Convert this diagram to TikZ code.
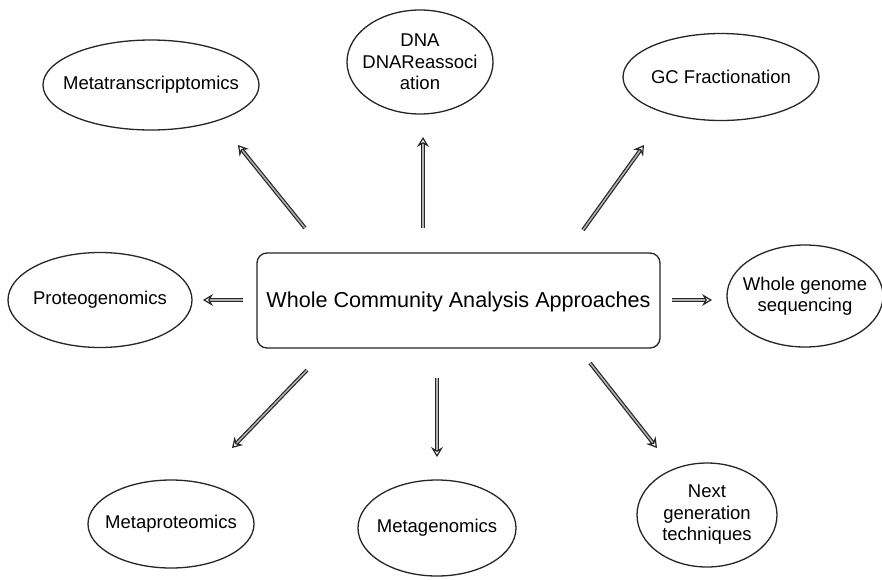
\documentclass[tikz,border=0pt]{standalone}
\usepackage{fontspec}
\setmainfont{Liberation Sans}
\usetikzlibrary{shapes.geometric,arrows.meta}
\tikzset{
  oval/.style={ellipse, draw=black!85, line width=1.3pt, inner sep=0pt},
  lbl/.style={inner sep=0pt, align=center, font=\fontsize{18.5}{21.5}\selectfont},
  mainbox/.style={rectangle, rounded corners=10pt, draw=black!85, line width=1.3pt, inner sep=0pt},
  arr/.style={draw=black!85, line width=1.2pt, double=black!30, double distance=1.5pt, -{Stealth[open, length=10pt, width=12pt, inset=3.5pt]}}
}
\begin{document}
\begin{tikzpicture}[x=1pt, y=-1pt]
\useasboundingbox[fill=white] (0,0) rectangle (882,579);
% central box
\node[mainbox, minimum width=403pt, minimum height=95pt, label={[lbl, font=\fontsize{21.6}{26}\selectfont, yshift=-1.5pt]center:Whole Community Analysis Approaches}] (box) at (458.5,300.5) {};
% outer ovals
\node[oval, minimum width=216pt, minimum height=90pt, label={[lbl]center:Metatranscripptomics}] (mt) at (151,85) {};
\node[oval, minimum width=146pt, minimum height=104pt, label={[lbl]center:DNA\\DNAReassoci\\ation}] (dna) at (420,62) {};
\node[oval, minimum width=196pt, minimum height=87pt, label={[lbl]center:GC Fractionation}] (gc) at (721,77) {};
\node[oval, minimum width=184pt, minimum height=95pt, label={[lbl]center:Proteogenomics}] (pg) at (100,300) {};
\node[oval, minimum width=156pt, minimum height=102pt, label={[lbl]center:Whole genome\\sequencing}] (wgs) at (805,296) {};
\node[oval, minimum width=166pt, minimum height=88pt, label={[lbl]center:Metaproteomics}] (mp) at (171,524) {};
\node[oval, minimum width=158pt, minimum height=96pt, label={[lbl]center:Metagenomics}] (mg) at (437,528) {};
\node[oval, minimum width=140pt, minimum height=104pt, label={[lbl]center:Next\\generation\\techniques}] (ng) at (707,515) {};
% arrow end points
\coordinate (s1) at (305,228); \coordinate (e1) at (238,145);
\coordinate (s2) at (423,228); \coordinate (e2) at (423,137);
\coordinate (s3) at (583,230); \coordinate (e3) at (644,145);
\coordinate (s4) at (243,300); \coordinate (e4) at (203,300);
\coordinate (s5) at (672,300); \coordinate (e5) at (712,300);
\coordinate (s6) at (307,370); \coordinate (e6) at (232,448);
\coordinate (s7) at (437,378); \coordinate (e7) at (437,457);
\coordinate (s8) at (590,363); \coordinate (e8) at (657,448);
\foreach \i in {1,...,8} { \draw[arr] (s\i) -- (e\i); }
\end{tikzpicture}
\end{document}
